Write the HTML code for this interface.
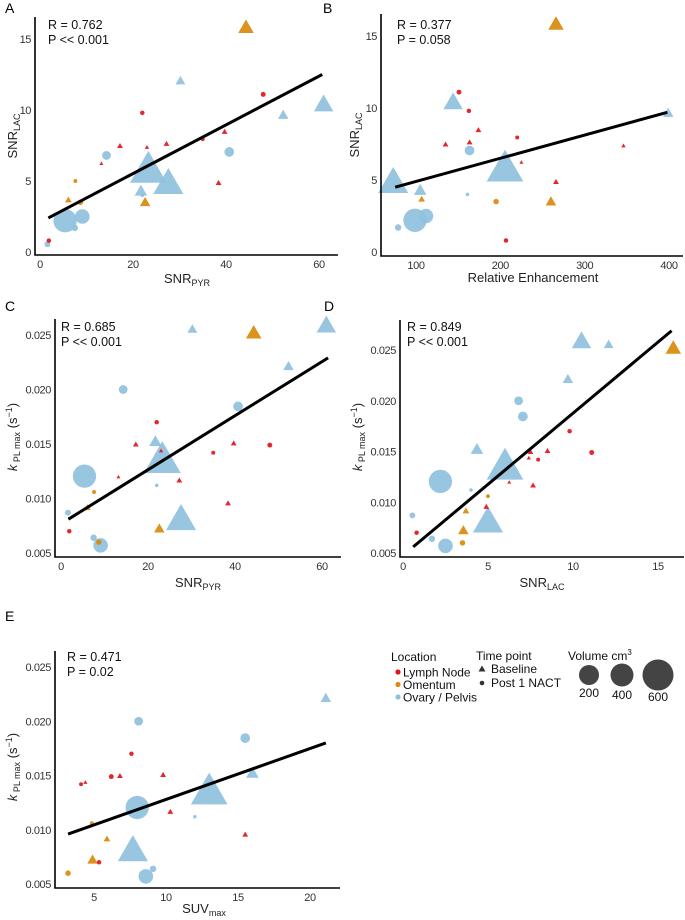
<!DOCTYPE html>
<html><head><meta charset="utf-8">
<style>
html,body{margin:0;padding:0;background:#fff;}
svg{display:block;font-family:"Liberation Sans",sans-serif;}
.tick{font-size:11px;fill:#333;letter-spacing:-0.4px;}
.ttl{font-size:13px;fill:#222;}
.ann{font-size:12.5px;fill:#111;}
.plab{font-size:14px;fill:#000;}
.leg{font-size:12px;fill:#111;}
</style></head>
<body>
<svg id="fig" width="685" height="920" viewBox="0 0 685 920"></svg>
<script>
// tumor data
const loc = ['O','B','L','B','L','B','L','L','L','L','L','B','B','L','B','B','L','B','O','B','O','O','O','B','B','B','L','B'];
const tp  = ['t','t','c','t','c','t','t','c','t','t','t','c','c','t','t','t','t','t','c','c','t','t','c','c','c','c','c','c'];
const vol = [59,18,5.5,100,4,22,3.5,2.4,3.5,1,3.5,39,30,0.6,413,269,3.5,35,2.4,1.6,6,22,8,295,103,13,4,10];
const pyr = [44.3,30.2,48,61,22,52.3,39.7,35,17.2,23,27.2,40.7,14.3,13.2,23.3,27.6,38.4,21.7,7.6,22,6.1,22.6,8.7,5.4,9.1,7.5,1.9,1.6];
const lac = [15.9,12.1,11.1,10.5,9.8,9.7,8.5,7.95,7.5,7.4,7.65,7.05,6.8,6.25,6.0,5.0,4.9,4.35,5.0,4.0,3.7,3.55,3.5,2.2,2.5,1.7,0.8,0.55];
const re  = [266,null,151,144,162.7,399,174,220,135,346,163.5,163.5,null,225,205.5,73,266,105,null,161,106.7,260,195,98.8,111.8,78.8,206.7,null];
const kpl = [25.3,25.6,14.9,26,17.0,22.2,15.1,14.2,15.0,14.4,11.7,18.45,20.0,12.0,13.8,8.3,9.6,15.3,10.6,11.2,9.2,7.3,6.0,12.05,5.7,6.4,7.0,8.7];
const suv = [null,null,6.2,null,7.6,21.1,9.8,4.1,6.8,4.4,10.3,15.5,8.1,null,13.0,7.7,15.5,16.0,4.85,12.0,5.9,4.9,3.2,8.0,8.6,9.1,5.35,null];
// fit lines
const fitA_x=[1.8,60.7], fitA_y=[2.4,12.5];
const fitB_x=[75.3,398], fitB_y=[4.5,9.7];
const fitC_x=[1.7,61.4], fitC_y=[8.1,22.9];
const fitD_x=[0.6,15.8], fitD_y=[5.6,26.9];
const fitE_x=[3.2,21.1], fitE_y=[9.6,18.0];
// ticks
const ticksPyr=[0,20,40,60], ticksLac=[0,5,10,15], ticksRe=[100,200,300,400];
const ticksK=[5,10,15,20,25], ticksKLab=['0.005','0.010','0.015','0.020','0.025'];
const ticksSuv=[5,10,15,20];
const legVol=[200,400,600];

const NS='http://www.w3.org/2000/svg';
const svg=document.getElementById('fig');
const colors={L:'#e0161b',O:'#d88a0a',B:'#8fc0dd'};
function mk(tag,attrs,parent){const e=document.createElementNS(NS,tag);for(const k in attrs)e.setAttribute(k,attrs[k]);(parent||svg).appendChild(e);return e;}
function rad(v){return 1+0.62*Math.sqrt(v);}
function lin(d0,d1,p0,p1){return v=>p0+(v-d0)*(p1-p0)/(d1-d0);}

function panel(cfg){
  const g=mk('g',{});
  
  
  const {sx,sy,ax}=cfg;
  // points
  const pg=mk('g',{},g);
  
  
  // draw big first
  const idx=cfg.xs.map((_,i)=>i).filter(i=>cfg.xs[i]!=null&&cfg.ys[i]!=null).sort((a,b)=>vol[b]-vol[a]);
  idx.forEach(i=>{
    const x=sx(cfg.xs[i]),y=sy(cfg.ys[i]),r=rad(vol[i]);
    let el;
    if(tp[i]==='c'){el=mk('circle',{cx:x,cy:y,r:r,fill:colors[loc[i]],'fill-opacity':0.92},pg);}
    else{const s=2.7*r,h=s*0.866;
      el=mk('polygon',{points:`${x},${y-h/2} ${x-s/2},${y+h/2} ${x+s/2},${y+h/2}`,fill:colors[loc[i]],'fill-opacity':0.92},pg);}
    
    
  });
  // fit line
  const fl=mk('line',{x1:sx(cfg.fx[0]),y1:sy(cfg.fy[0]),x2:sx(cfg.fx[1]),y2:sy(cfg.fy[1]),stroke:'#000','stroke-width':3},g);
  
  
  // axes
  const a1=mk('path',{d:`M${ax.l},${ax.t} L${ax.l},${ax.b} L${ax.r},${ax.b}`,fill:'none',stroke:'#000','stroke-width':1.6},g);
  
  
  cfg.xt.forEach(v=>{const t=mk('text',{x:sx(v),y:ax.b+13,'text-anchor':'middle',class:'tick'},g);t.textContent=v;
    });
  cfg.yt.forEach((v,j)=>{const t=mk('text',{x:ax.l-4,y:sy(v)+4,'text-anchor':'end',class:'tick'},g);t.textContent=cfg.ytl?cfg.ytl[j]:v;
    });
  // annotation
  const r1=mk('text',{x:cfg.ann[0],y:cfg.ann[1],class:'ann'},g);r1.textContent=cfg.R;
  
  const p1=mk('text',{x:cfg.ann[0],y:cfg.ann[1]+15,class:'ann'},g);p1.textContent=cfg.P;
  
  const pl=mk('text',{x:cfg.lab[0],y:cfg.lab[1],class:'plab'},g);pl.textContent=cfg.letter;
  
  // titles
  const xt=mk('text',{x:cfg.xtp[0],y:cfg.xtp[1],'text-anchor':'middle',class:'ttl'},g);xt.innerHTML=cfg.xtitle;
  
  const yt=mk('text',{x:0,y:0,'text-anchor':'middle',class:'ttl',transform:`translate(${cfg.ytp[0]},${cfg.ytp[1]}) rotate(-90)`},g);yt.innerHTML=cfg.ytitle;
  
}
const SNRPYR='SNR<tspan font-size="9" dy="3">PYR</tspan>';
const SNRLAC='SNR<tspan font-size="9" dy="3">LAC</tspan>';
const KPL='<tspan font-style="italic">k</tspan><tspan font-size="9" dy="3"> PL max</tspan><tspan dy="-3"> (s</tspan><tspan font-size="9" dy="-5">−1</tspan><tspan dy="5">)</tspan>';

panel({name:'panel-a',letter:'A',xs:pyr,ys:lac,sx:lin(0,60,40,319),sy:lin(0,15,252,39),ax:{l:35,t:17,b:255,r:338},
  xt:ticksPyr,yt:ticksLac,fx:fitA_x,fy:fitA_y,R:'R = 0.762',P:'P << 0.001',ann:[48,29],lab:[5,13],xtp:[187,283],xtitle:SNRPYR,ytp:[17,136],ytitle:SNRLAC});
panel({name:'panel-b',letter:'B',xs:re,ys:lac,sx:lin(100,400,416,669),sy:lin(0,15,252,36),ax:{l:381,t:14,b:256,r:683},
  xt:ticksRe,yt:ticksLac,fx:fitB_x,fy:fitB_y,R:'R = 0.377',P:'P = 0.058',ann:[397,29],lab:[323,13],xtp:[533,282],xtitle:'Relative Enhancement',ytp:[359,135],ytitle:SNRLAC});
panel({name:'panel-c',letter:'C',xs:pyr,ys:kpl,sx:lin(0,60,61,322),sy:lin(5,25,553,335),ax:{l:55,t:319,b:557,r:341},
  xt:ticksPyr,yt:ticksK,ytl:ticksKLab,fx:fitC_x,fy:fitC_y,R:'R = 0.685',P:'P << 0.001',ann:[61,331],lab:[5,311],xtp:[198,587],xtitle:SNRPYR,ytp:[17,437],ytitle:KPL});
panel({name:'panel-d',letter:'D',xs:lac,ys:kpl,sx:lin(0,15,403,658),sy:lin(5,25,553,350),ax:{l:400,t:320,b:557,r:684},
  xt:ticksLac,yt:ticksK,ytl:ticksKLab,fx:fitD_x,fy:fitD_y,R:'R = 0.849',P:'P << 0.001',ann:[407,331],lab:[324,311],xtp:[542,587],xtitle:SNRLAC,ytp:[362,437],ytitle:KPL});
panel({name:'panel-e',letter:'E',xs:suv,ys:kpl,sx:lin(5,20,94,310),sy:lin(5,25,884,667),ax:{l:55,t:651,b:888,r:340},
  xt:ticksSuv,yt:ticksK,ytl:ticksKLab,fx:fitE_x,fy:fitE_y,R:'R = 0.471',P:'P = 0.02',ann:[67,661],lab:[5,621],xtp:[204,913],xtitle:'SUV<tspan font-size="9" dy="3">max</tspan>',ytp:[17,767],ytitle:KPL});

// legend
const lg=mk('g',{});


function lt(x,y,s,name){const t=mk('text',{x:x,y:y,class:'leg'},lg);t.innerHTML=s;return t;}
lt(391,661,'Location','legend-location-title');
[['L','Lymph Node'],['O','Omentum'],['B','Ovary / Pelvis']].forEach((d,j)=>{
  const y=672+12.5*j;
  const c=mk('circle',{cx:398,cy:y,r:2.6,fill:colors[d[0]]},lg);
  
  lt(403,y+4.5,d[1],'legend-location-entry');
});
lt(476,660,'Time point','legend-time-title');
const tri=mk('polygon',{points:'482,665.5 478.5,671.5 485.5,671.5',fill:'#333'},lg);

lt(491,673,'Baseline','legend-baseline-entry');
const dot=mk('circle',{cx:482,cy:683,r:2.3,fill:'#333'},lg);

lt(491,687,'Post 1 NACT','legend-post-entry');
lt(568,660,'Volume cm<tspan font-size="8" dy="-5">3</tspan>','legend-volume-title');
const legX=[589,622,658];
legVol.forEach((v,j)=>{
  const r=[10,11.5,15.5][j];
  const c=mk('circle',{cx:legX[j],cy:675,r:r,fill:'#444'},lg);
  
  const t=mk('text',{x:legX[j],y:697+2*j,'text-anchor':'middle',class:'leg'},lg);t.textContent=v;
  
});
</script>
</body></html>
